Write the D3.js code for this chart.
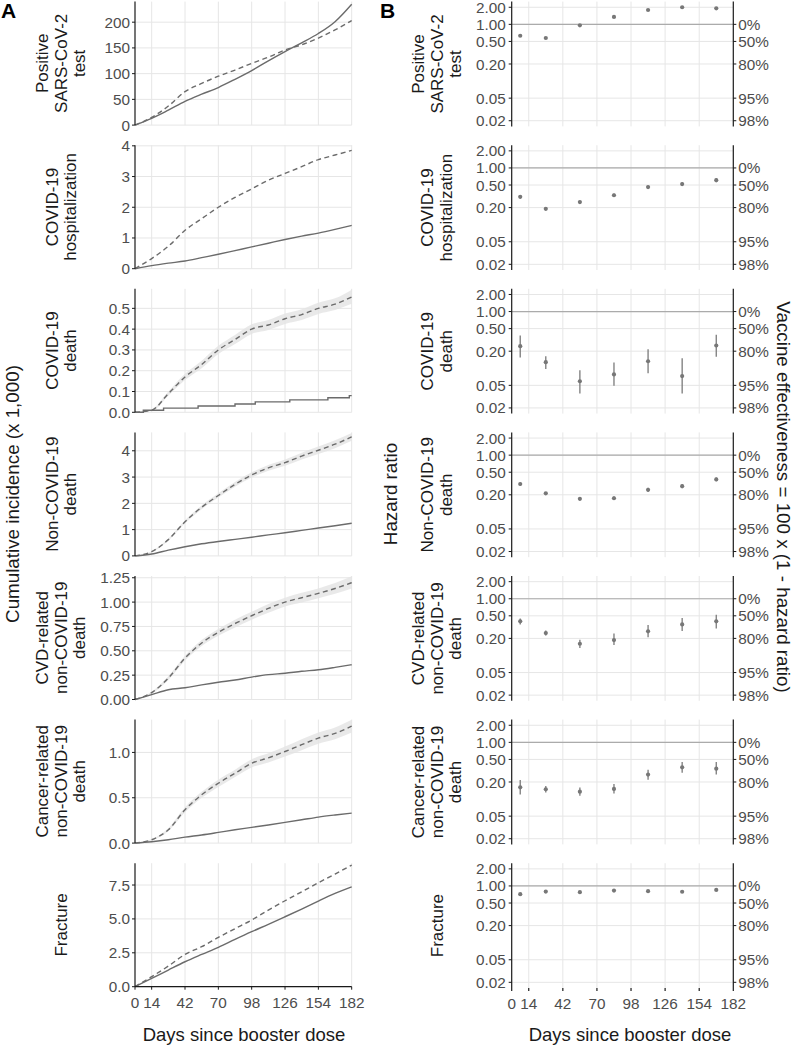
<!DOCTYPE html>
<html><head><meta charset="utf-8">
<script src="https://cdn.jsdelivr.net/npm/d3@7"></script>
<style>
body{margin:0;background:#fff;}
svg{display:block;font-family:"Liberation Sans",Arial,sans-serif;}
</style></head><body>
<svg id="chart" width="800" height="1046"></svg>
<script>
// ---------- DATA ----------
const outcomes = [["Positive","SARS-CoV-2","test"],["COVID-19","hospitalization"],["COVID-19","death"],["Non-COVID-19","death"],["CVD-related","non-COVID-19","death"],["Cancer-related","non-COVID-19","death"],["Fracture"]];
const days = [0,14,28,42,56,70,84,98,112,126,140,154,168,182];
const xTicks = [0,14,42,70,98,126,154,182];

const posBoost   = [0,13,29,46,60,73,89,106,125,143,160,178,201,235];
const posNoBoost = [0,15,37,65,81,95,107,120,132,146,156,169,185,203];
const hospBoost   = [0,0.1,0.18,0.25,0.36,0.47,0.59,0.71,0.83,0.95,1.06,1.16,1.28,1.41];
const hospNoBoost = [0,0.33,0.73,1.25,1.63,2.0,2.32,2.6,2.88,3.1,3.32,3.55,3.7,3.85];
const covDeathBoostDays = [0,7,24,53,84,101,130,162,180,182];
const covDeathBoost     = [0,0.01,0.02,0.03,0.04,0.05,0.06,0.07,0.08,0.08];
const covDeathNoBoost   = [0,0.01,0.09,0.17,0.23,0.30,0.35,0.40,0.42,0.45,0.47,0.50,0.52,0.555];
const covDeathNoBoostLo = [0,0.006,0.08,0.155,0.212,0.28,0.328,0.377,0.396,0.425,0.444,0.473,0.492,0.522];
const covDeathNoBoostHi = [0,0.014,0.10,0.185,0.248,0.32,0.372,0.423,0.444,0.475,0.496,0.527,0.548,0.59];
const nonCovBoost   = [0,0.07,0.22,0.35,0.46,0.55,0.63,0.71,0.8,0.88,0.97,1.06,1.15,1.24];
const nonCovNoBoost = [0,0.16,0.62,1.3,1.85,2.3,2.72,3.08,3.35,3.55,3.8,4.02,4.25,4.53];
const nonCovNoBoostLo = [0,0.14,0.58,1.24,1.78,2.22,2.63,2.98,3.24,3.43,3.67,3.88,4.1,4.38];
const nonCovNoBoostHi = [0,0.18,0.66,1.36,1.92,2.38,2.81,3.18,3.46,3.67,3.93,4.16,4.4,4.68];
const cvdBoost   = [0,0.05,0.10,0.12,0.15,0.177,0.2,0.23,0.255,0.27,0.29,0.306,0.33,0.357];
const cvdNoBoost = [0,0.07,0.22,0.425,0.58,0.69,0.78,0.86,0.935,1.0,1.045,1.09,1.14,1.20];
const cvdNoBoostLo = [0,0.06,0.2,0.4,0.55,0.655,0.74,0.82,0.89,0.955,0.995,1.04,1.085,1.14];
const cvdNoBoostHi = [0,0.08,0.24,0.45,0.61,0.725,0.82,0.9,0.98,1.045,1.095,1.14,1.195,1.265];
const cancerBoost   = [0,0.015,0.037,0.066,0.09,0.118,0.147,0.173,0.2,0.228,0.257,0.287,0.31,0.33];
const cancerNoBoost = [0,0.037,0.147,0.368,0.533,0.66,0.77,0.88,0.94,1.01,1.085,1.158,1.21,1.29];
const cancerNoBoostLo = [0,0.03,0.13,0.34,0.5,0.62,0.73,0.835,0.89,0.955,1.025,1.095,1.145,1.22];
const cancerNoBoostHi = [0,0.044,0.165,0.395,0.565,0.7,0.81,0.925,0.99,1.065,1.145,1.22,1.275,1.36];
const fracBoost   = [0,0.61,1.23,1.84,2.38,2.9,3.49,4.06,4.6,5.16,5.73,6.32,6.88,7.37];
const fracNoBoost = [0,0.74,1.52,2.38,2.95,3.64,4.28,4.92,5.65,6.34,7.0,7.67,8.31,8.97];

const yMax = [240,4.02,0.594,4.70,1.268,1.362,9.11];
const yTicksA = [[0,50,100,150,200],[0,1,2,3,4],[0,0.1,0.2,0.3,0.4,0.5],[0,1,2,3,4],[0,0.25,0.5,0.75,1.0,1.25],[0,0.5,1.0],[0,2.5,5.0,7.5]];
const yFmtA = ["d","d",".1f","d",".2f",".1f",".1f"];

const hrDays = [7,28,56,84,112,140,168];
const hrPos    = [0.63,0.575,0.96,1.35,1.79,2.0,1.92];
const hrPosLo  = [0.61,0.56,0.94,1.32,1.75,1.95,1.87];
const hrPosHi  = [0.65,0.59,0.98,1.38,1.83,2.05,1.97];
const hrHosp   = [0.31,0.19,0.25,0.33,0.46,0.52,0.61];
const hrHospLo = [0.29,0.18,0.235,0.31,0.43,0.48,0.56];
const hrHospHi = [0.33,0.205,0.265,0.355,0.49,0.56,0.66];
const hrCovD   = [0.245,0.128,0.059,0.078,0.133,0.073,0.252];
const hrCovDLo = [0.155,0.0975,0.036,0.049,0.082,0.036,0.159];
const hrCovDHi = [0.38,0.163,0.092,0.126,0.217,0.15,0.39];
const hrNonCov   = [0.31,0.212,0.170,0.174,0.245,0.284,0.373];
const hrNonCovLo = [0.29,0.2,0.158,0.162,0.227,0.262,0.345];
const hrNonCovHi = [0.33,0.225,0.183,0.188,0.265,0.307,0.403];
const hrCvd   = [0.40,0.248,0.161,0.187,0.267,0.352,0.40];
const hrCvdLo = [0.35,0.225,0.135,0.153,0.21,0.27,0.30];
const hrCvdHi = [0.45,0.275,0.19,0.245,0.345,0.46,0.52];
const hrCancer   = [0.161,0.149,0.135,0.151,0.27,0.363,0.344];
const hrCancerLo = [0.12,0.13,0.115,0.125,0.22,0.29,0.27];
const hrCancerHi = [0.218,0.17,0.16,0.185,0.33,0.45,0.45];
const hrFrac   = [0.716,0.796,0.776,0.83,0.81,0.79,0.85];
const hrFracLo = [0.69,0.775,0.755,0.805,0.785,0.765,0.825];
const hrFracHi = [0.74,0.82,0.8,0.855,0.835,0.815,0.875];

const hrTicks = [0.02,0.05,0.2,0.5,1,2];
const veLabels = [[1,"0%"],[0.5,"50%"],[0.2,"80%"],[0.05,"95%"],[0.02,"98%"]];

// ---------- TABLES ----------
const A = [
 {solid:{d:days,v:posBoost}, dash:{d:days,v:posNoBoost}},
 {solid:{d:days,v:hospBoost}, dash:{d:days,v:hospNoBoost}},
 {solid:{d:covDeathBoostDays,v:covDeathBoost,step:true}, dash:{d:days,v:covDeathNoBoost,lo:covDeathNoBoostLo,hi:covDeathNoBoostHi}},
 {solid:{d:days,v:nonCovBoost}, dash:{d:days,v:nonCovNoBoost,lo:nonCovNoBoostLo,hi:nonCovNoBoostHi}},
 {solid:{d:days,v:cvdBoost}, dash:{d:days,v:cvdNoBoost,lo:cvdNoBoostLo,hi:cvdNoBoostHi}},
 {solid:{d:days,v:cancerBoost}, dash:{d:days,v:cancerNoBoost,lo:cancerNoBoostLo,hi:cancerNoBoostHi}},
 {solid:{d:days,v:fracBoost}, dash:{d:days,v:fracNoBoost}}
];
const B = [[hrPos,hrPosLo,hrPosHi],[hrHosp,hrHospLo,hrHospHi],[hrCovD,hrCovDLo,hrCovDHi],[hrNonCov,hrNonCovLo,hrNonCovHi],[hrCvd,hrCvdLo,hrCvdHi],[hrCancer,hrCancerLo,hrCancerHi],[hrFrac,hrFracLo,hrFracHi]];

// ---------- LAYOUT ----------
const svg = d3.select("#chart");
const top0 = 1.6, step = 143.6, hA = 123.5, hB = 124.8;
const xA = d3.scaleLinear().domain([0,182]).range([135,351.7]);
const xB = d3.scaleLinear().domain([0,182]).range([511.7,733.3]);
const gridC = "#e6e6e6", axisC = "#1a1a1a", tickTxt = "#4d4d4d", lineC = "#6b6b6b";
const tickFont = 15.3;

function rowLabel(cx, cy, lines){
  const g = svg.append("g").attr("transform",`translate(${cx},${cy}) rotate(-90)`);
  const n = lines.length;
  lines.forEach((t,i)=>{
    g.append("text").attr("x",0).attr("y",(i-(n-1)/2)*18.5).attr("dy","0.35em")
     .attr("text-anchor","middle").attr("font-size",17).attr("fill","#1a1a1a").text(t);
  });
}

outcomes.forEach((lab,r)=>{
  const t = top0 + r*step;
  // ----- Panel A -----
  const y = d3.scaleLinear().domain([0,yMax[r]]).range([t+hA,t]);
  const g = svg.append("g");
  yTicksA[r].forEach(v=>{
    g.append("line").attr("x1",xA(0)).attr("x2",xA(182)).attr("y1",y(v)).attr("y2",y(v)).attr("stroke",gridC).attr("stroke-width",1);
  });
  xTicks.slice(1).forEach(v=>{
    g.append("line").attr("x1",xA(v)).attr("x2",xA(v)).attr("y1",t).attr("y2",t+hA).attr("stroke",gridC).attr("stroke-width",1);
  });
  const dat = A[r];
  if(dat.dash.lo){
    const pts = dat.dash.d.map((d,i)=>({d,lo:dat.dash.lo[i],hi:dat.dash.hi[i]}));
    g.append("path").attr("d",d3.area().x(p=>xA(p.d)).y0(p=>y(p.lo)).y1(p=>y(p.hi)).curve(d3.curveMonotoneX)(pts))
      .attr("fill","#e4e4e4").attr("opacity",0.8);
  }
  const lineGen = (s)=>{
    const pts = s.d.map((d,i)=>({d,v:s.v[i]}));
    return d3.line().x(p=>xA(p.d)).y(p=>y(p.v)).curve(s.step?d3.curveStepAfter:d3.curveMonotoneX)(pts);
  };
  g.append("path").attr("d",lineGen(dat.solid)).attr("fill","none").attr("stroke",lineC).attr("stroke-width",1.4);
  g.append("path").attr("d",lineGen(dat.dash)).attr("fill","none").attr("stroke",lineC).attr("stroke-width",1.4).attr("stroke-dasharray","5,3.5");
  // y axis
  g.append("line").attr("x1",xA(0)).attr("x2",xA(0)).attr("y1",t).attr("y2",t+hA).attr("stroke",axisC).attr("stroke-width",1.2);
  const fmt = d3.format(yFmtA[r]);
  yTicksA[r].forEach(v=>{
    g.append("line").attr("x1",xA(0)-3).attr("x2",xA(0)).attr("y1",y(v)).attr("y2",y(v)).attr("stroke",axisC).attr("stroke-width",1);
    g.append("text").attr("x",xA(0)-5).attr("y",y(v)).attr("dy","0.36em").attr("text-anchor","end")
      .attr("font-size",tickFont).attr("fill",tickTxt).text(fmt(v));
  });
  rowLabel(61, t+hA/2, lab);

  // ----- Panel B -----
  const yb = d3.scaleLog().domain([Math.pow(10,-1.799),Math.pow(10,0.401)]).range([t+hB,t]);
  const gb = svg.append("g");
  hrTicks.forEach(v=>{
    gb.append("line").attr("x1",xB(0)).attr("x2",xB(182)).attr("y1",yb(v)).attr("y2",yb(v)).attr("stroke",gridC).attr("stroke-width",1);
  });
  xTicks.slice(1,-1).forEach(v=>{
    gb.append("line").attr("x1",xB(v)).attr("x2",xB(v)).attr("y1",t).attr("y2",t+hB).attr("stroke",gridC).attr("stroke-width",1);
  });
  gb.append("line").attr("x1",xB(0)).attr("x2",xB(182)).attr("y1",yb(1)).attr("y2",yb(1)).attr("stroke","#ababab").attr("stroke-width",1.2);
  const [est,lo,hi] = B[r];
  hrDays.forEach((d,i)=>{
    gb.append("line").attr("x1",xB(d)).attr("x2",xB(d)).attr("y1",yb(lo[i])).attr("y2",yb(hi[i])).attr("stroke","#7a7a7a").attr("stroke-width",1.3);
    gb.append("circle").attr("cx",xB(d)).attr("cy",yb(est[i])).attr("r",2.1).attr("fill","#777");
  });
  gb.append("line").attr("x1",xB(0)).attr("x2",xB(0)).attr("y1",t).attr("y2",t+hB).attr("stroke",axisC).attr("stroke-width",1.2);
  gb.append("line").attr("x1",xB(182)).attr("x2",xB(182)).attr("y1",t).attr("y2",t+hB).attr("stroke",axisC).attr("stroke-width",1.2);
  const f2 = d3.format(".2f");
  hrTicks.forEach(v=>{
    gb.append("line").attr("x1",xB(0)-3).attr("x2",xB(0)).attr("y1",yb(v)).attr("y2",yb(v)).attr("stroke",axisC).attr("stroke-width",1);
    gb.append("text").attr("x",xB(0)-6).attr("y",yb(v)).attr("dy","0.36em").attr("text-anchor","end")
      .attr("font-size",tickFont).attr("fill",tickTxt).text(f2(v));
  });
  veLabels.forEach(([v,s])=>{
    gb.append("line").attr("x1",xB(182)).attr("x2",xB(182)+3).attr("y1",yb(v)).attr("y2",yb(v)).attr("stroke",axisC).attr("stroke-width",1);
    gb.append("text").attr("x",xB(182)+5).attr("y",yb(v)).attr("dy","0.36em").attr("text-anchor","start")
      .attr("font-size",tickFont).attr("fill",tickTxt).text(s);
  });
  rowLabel(436.7, t+hB/2, lab);
});

// ---------- X AXES ----------
const lastT = top0 + 6*step;
const axA = svg.append("g");
axA.append("line").attr("x1",xA(0)).attr("x2",xA(182)).attr("y1",lastT+hA).attr("y2",lastT+hA).attr("stroke",axisC).attr("stroke-width",1.2);
xTicks.forEach(v=>{
  axA.append("line").attr("x1",xA(v)).attr("x2",xA(v)).attr("y1",lastT+hA).attr("y2",lastT+hA+3).attr("stroke",axisC).attr("stroke-width",1);
  axA.append("text").attr("x",xA(v)).attr("y",lastT+hA+16).attr("dy","0.36em").attr("text-anchor","middle").attr("font-size",tickFont).attr("fill",tickTxt).text(v);
});
const axB = svg.append("g");
xTicks.forEach(v=>{
  axB.append("line").attr("x1",xB(v)).attr("x2",xB(v)).attr("y1",lastT+hB).attr("y2",lastT+hB+3).attr("stroke",axisC).attr("stroke-width",1.2);
  axB.append("text").attr("x",xB(v)).attr("y",lastT+hB+15).attr("dy","0.36em").attr("text-anchor","middle").attr("font-size",tickFont).attr("fill",tickTxt).text(v);
});
svg.append("text").attr("x",244).attr("y",1041).attr("text-anchor","middle").attr("font-size",18.5).attr("fill","#1a1a1a").text("Days since booster dose");
svg.append("text").attr("x",630).attr("y",1041).attr("text-anchor","middle").attr("font-size",18.5).attr("fill","#1a1a1a").text("Days since booster dose");

// ---------- TITLES ----------
svg.append("text").attr("transform","translate(12,494) rotate(-90)").attr("dy","0.35em").attr("text-anchor","middle").attr("font-size",18.8).attr("fill","#1a1a1a").text("Cumulative incidence (x 1,000)");
svg.append("text").attr("transform","translate(390,494) rotate(-90)").attr("dy","0.35em").attr("text-anchor","middle").attr("font-size",18.8).attr("fill","#1a1a1a").text("Hazard ratio");
svg.append("text").attr("transform","translate(784,497) rotate(90)").attr("dy","0.35em").attr("text-anchor","middle").attr("font-size",18.8).attr("fill","#1a1a1a").text("Vaccine effectiveness = 100 x (1 - hazard ratio)");
svg.append("text").attr("x",1).attr("y",18).attr("font-size",21).attr("font-weight","bold").attr("fill","#000").text("A");
svg.append("text").attr("x",380).attr("y",18).attr("font-size",21).attr("font-weight","bold").attr("fill","#000").text("B");
</script>
</body></html>
